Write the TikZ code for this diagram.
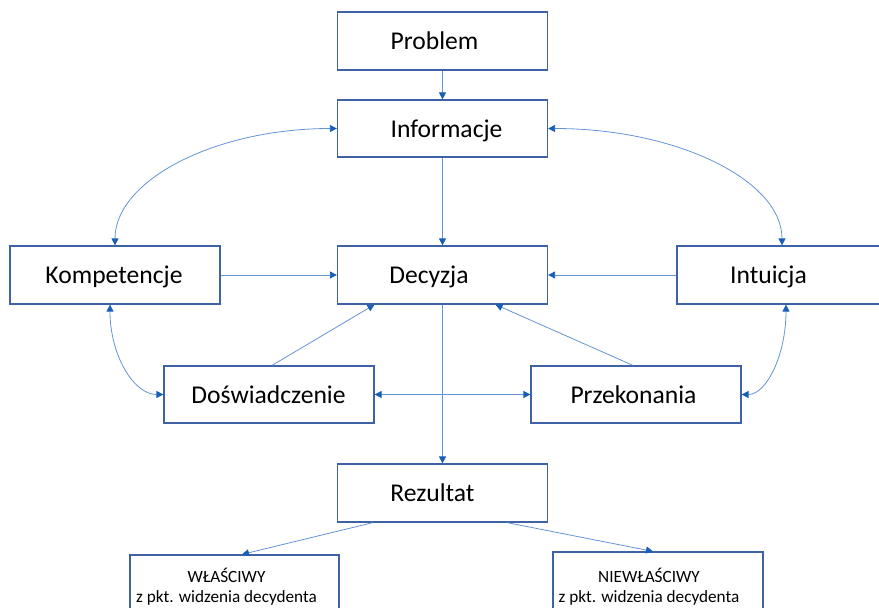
\documentclass[tikz,border=0pt]{standalone}
\usepackage{fontspec}
\setmainfont{Carlito}
\usetikzlibrary{arrows.meta,calc}
\definecolor{boxblue}{RGB}{62,98,165}
\definecolor{lineblue}{RGB}{100,148,215}
\definecolor{tipblue}{RGB}{25,95,185}
\tikzset{
 box/.style={draw=boxblue, line width=1.2pt, minimum width=210pt, minimum height=57pt, inner sep=0pt, fill=white},
 lbl/.style={anchor=base, inner sep=0pt, font=\fontsize{25.6}{30}\selectfont},
 smalllbl/.style={anchor=base, inner sep=0pt, font=\fontsize{17.2}{21}\selectfont},
 conn/.style={draw=lineblue, line width=0.8pt},
 arr/.style={-{Triangle[length=7pt,width=7pt,color=tipblue]}},
 darr/.style={{Triangle[length=7pt,width=7pt,color=tipblue]}-{Triangle[length=7pt,width=7pt,color=tipblue]}},
}
\begin{document}
\begin{tikzpicture}[x=1pt,y=-1pt]
\useasboundingbox (0,0) rectangle (879,608);
% boxes
\node[box, minimum height=58pt] (problem) at (442.5,41) {};
\node[box] (info) at (442.5,128.5) {};
\node[box, minimum height=58pt] (decyzja) at (442.5,275) {};
\node[box, minimum height=58pt] (komp) at (115,275) {};
\node[box, minimum height=58pt] (intu) at (782,275) {};
\node[box] (dosw) at (269,394.5) {};
\node[box] (przek) at (636,394.5) {};
\node[box, minimum height=58pt] (rez) at (442.5,493) {};
\node[box, minimum width=209pt, minimum height=58pt] (wl) at (234.5,584) {};
\node[box, minimum height=58pt] (niew) at (658,581) {};
% texts
\node[lbl] (tproblem) at (434.5,49.5) {Problem};
\node[lbl] (tinfo) at (446.5,137) {Informacje};
\node[lbl] (tdec) at (429,283.5) {Decyzja};
\node[lbl] (tkomp) at (114,283.5) {Kompetencje};
\node[lbl] (tintu) at (768.5,283.5) {Intuicja};
\node[lbl] (tdosw) at (268.5,403) {Doświadczenie};
\node[lbl] (tprzek) at (633.5,403) {Przekonania};
\node[lbl] (trez) at (432.5,501.5) {Rezultat};
\node[smalllbl] (twl1) at (226.5,582) {WŁAŚCIWY};
\node[smalllbl] (twl2) at (226.5,602) {z pkt. widzenia decydenta};
\node[smalllbl] (tnw1) at (649,582) {NIEWŁAŚCIWY};
\node[smalllbl] (tnw2) at (649,602) {z pkt. widzenia decydenta};
% connectors
\draw[conn,arr] (problem.south) -- (info.north);
\draw[conn,arr] (info.south) -- (decyzja.north);
\draw[conn,darr] (dosw.east) -- (przek.west);
\draw[conn,arr] (decyzja.south) -- (rez.north);
\draw[conn,arr] (komp.east) -- (decyzja.west);
\draw[conn,arr] (intu.west) -- (decyzja.east);
\draw[conn,arr] ([xshift=3pt]dosw.north) -- ([xshift=-68pt]decyzja.south);
\draw[conn,arr] ([xshift=-3pt]przek.north) -- ([xshift=53pt]decyzja.south);
\draw[conn,darr] (info.west) .. controls +(-122,0) and +(0,-65) .. (komp.north);
\draw[conn,darr] (info.east) .. controls +(129,0) and +(0,-65) .. (intu.north);
\draw[conn,darr] ([xshift=-5pt]komp.south) .. controls +(0,50) and +(-30,0) .. (dosw.west);
\draw[conn,darr] ([xshift=4pt]intu.south) .. controls +(0,50) and +(25,0) .. (przek.east);
\draw[conn,arr] ([xshift=-69.5pt]rez.south) -- ([xshift=7.5pt]wl.north);
\draw[conn,arr] ([xshift=64.5pt]rez.south) -- ([xshift=-5pt]niew.north);
\end{tikzpicture}
\end{document}
